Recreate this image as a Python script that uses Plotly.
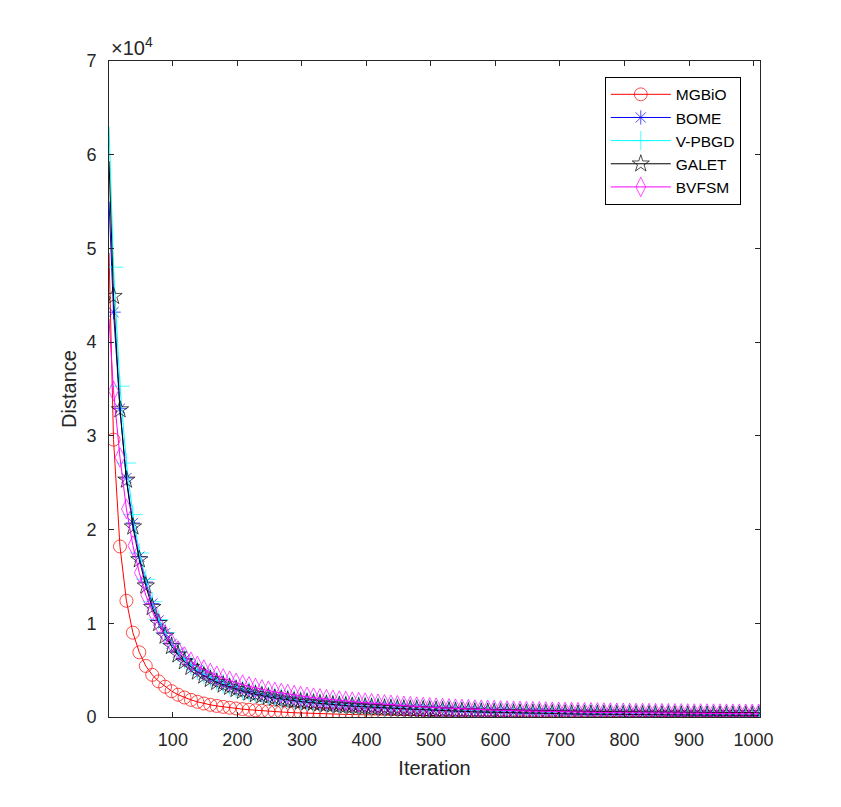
import plotly.graph_objects as go

# iteration at which each value was logged: the start, then every 10th step
iters = [1] + list(range(8, 1009, 10))

mgbio = [49500,
         29600, 18200, 12400, 9000, 6900, 5450, 4500, 3800, 3230, 2760,
         2380, 2080, 1830, 1620, 1440, 1300, 1180, 1080, 990, 910,
         840, 775, 715, 660, 610, 565, 525, 488, 455, 425,
         397, 372, 349, 328, 309, 291, 275, 260, 246, 233,
         221, 210, 200, 190, 181, 173, 165, 158, 151, 145,
         139, 133, 128, 123, 118, 114, 110, 106, 102, 98,
         95, 92, 89, 86, 83, 80, 78, 76, 74, 72,
         70, 68, 66, 64, 62, 60, 59, 58, 57, 56,
         55, 54, 53, 52, 51, 50, 49, 48, 47, 46,
         45, 44, 43, 42, 41, 40, 39, 38, 37, 36, 35]

bome = [55000,
        43200, 32900, 25500, 20700, 17100, 14400, 12100, 10300, 8950, 7800,
        6880, 6120, 5500, 4980, 4540, 4160, 3830, 3540, 3280, 3050,
        2850, 2670, 2500, 2350, 2220, 2100, 1990, 1880, 1790, 1700,
        1620, 1550, 1480, 1420, 1360, 1300, 1250, 1200, 1160, 1120,
        1080, 1040, 1000, 965, 935, 905, 875, 845, 820, 795,
        760, 730, 700, 670, 645, 620, 595, 575, 555, 535,
        515, 497, 480, 465, 450, 436, 422, 409, 397, 385,
        374, 363, 353, 343, 334, 325, 317, 309, 302, 295,
        288, 282, 276, 270, 265, 260, 255, 250, 246, 242,
        238, 234, 231, 228, 225, 222, 219, 216, 214, 212, 210]

vpbgd = [63000,
         48000, 35300, 27100, 21600, 17500, 14700, 12300, 10400, 9000, 7850,
         6920, 6150, 5520, 5000, 4560, 4180, 3850, 3560, 3300, 3070,
         2870, 2690, 2520, 2370, 2240, 2120, 2010, 1900, 1810, 1720,
         1640, 1570, 1500, 1440, 1380, 1320, 1270, 1220, 1180, 1140,
         1100, 1060, 1020, 985, 955, 925, 895, 865, 840, 815,
         780, 750, 720, 690, 665, 640, 615, 595, 575, 555,
         535, 517, 500, 485, 470, 456, 442, 429, 417, 405,
         394, 383, 373, 363, 354, 345, 337, 329, 322, 315,
         308, 302, 296, 290, 285, 280, 275, 270, 266, 262,
         258, 254, 251, 248, 245, 242, 239, 236, 234, 232, 230]

galet = [59300,
         44900, 32800, 25300, 20300, 16800, 14000, 11700, 10000, 8650, 7550,
         6650, 5920, 5320, 4820, 4400, 4030, 3710, 3430, 3180, 2960,
         2760, 2580, 2420, 2280, 2150, 2030, 1920, 1820, 1730, 1650,
         1570, 1500, 1430, 1370, 1310, 1260, 1210, 1160, 1120, 1080,
         1040, 1000, 965, 930, 900, 870, 840, 810, 785, 760,
         720, 690, 660, 630, 605, 580, 555, 535, 515, 495,
         475, 458, 442, 427, 412, 398, 385, 372, 360, 348,
         337, 327, 317, 308, 299, 291, 283, 276, 269, 262,
         256, 250, 244, 239, 234, 229, 224, 220, 216, 212,
         208, 204, 201, 198, 195, 192, 189, 186, 184, 182, 180]

bvfsm = [42500,
         34800, 27700, 22200, 18300, 15400, 13000, 11300, 9900, 8800, 7900,
         7100, 6450, 5900, 5450, 5050, 4700, 4400, 4120, 3870, 3650,
         3450, 3270, 3100, 2950, 2810, 2680, 2560, 2450, 2340, 2240,
         2150, 2060, 1980, 1900, 1830, 1760, 1700, 1640, 1580, 1530,
         1470, 1410, 1350, 1295, 1245, 1195, 1150, 1105, 1065, 1025,
         990, 955, 920, 890, 860, 830, 805, 780, 755, 730,
         710, 690, 670, 652, 635, 618, 602, 587, 572, 558,
         545, 532, 520, 508, 497, 486, 476, 466, 457, 448,
         440, 432, 425, 418, 411, 405, 399, 393, 388, 383,
         378, 374, 370, 366, 362, 358, 355, 352, 349, 346, 343]

series = [
    ('MGBiO', mgbio, 'red', 'circle-open', 13),
    ('BOME', bome, 'blue', 'asterisk-open', 12),
    ('V-PBGD', vpbgd, 'cyan', 'cross-thin-open', 14),
    ('GALET', galet, 'black', 'star-open', 13),
    ('BVFSM', bvfsm, 'magenta', 'diamond-tall-open', 14),
]

fig = go.Figure()
for name, vals, col, sym, sz in series:
    # no marker on the starting point
    sizes = [0] + [sz] * (len(vals) - 1)
    fig.add_trace(go.Scatter(x=iters, y=vals, name=name, mode='lines+markers',
                             line=dict(color=col, width=1),
                             marker=dict(symbol=sym, size=sizes, color=col,
                                         line=dict(color=col, width=1))))

axis_col = '#262626'
# page body has an 8px margin, so the figure is shrunk by that much
fig.update_layout(
    width=833, height=799,
    margin=dict(l=101, r=81, t=53, b=90),
    paper_bgcolor='white', plot_bgcolor='white',
    font=dict(family='Arial, Liberation Sans, sans-serif', size=18, color=axis_col),
    legend=dict(x=0.866, y=0.976, xanchor='center', yanchor='top',
                bgcolor='white', bordercolor='black', borderwidth=1,
                font=dict(size=15.5, color='black'), itemwidth=60,
                tracegroupgap=0),
    annotations=[dict(text='×10<sup>4</sup>', x=0, y=1, xref='paper', yref='paper',
                      xanchor='left', yanchor='bottom', showarrow=False,
                      font=dict(size=20, color=axis_col))],
)
fig.update_xaxes(range=[1, 1010], tickvals=list(range(100, 1001, 100)),
                 ticks='inside', ticklen=5, tickcolor=axis_col, ticklabelstandoff=6,
                 showline=True, linecolor=axis_col, linewidth=1, mirror='ticks',
                 showgrid=False, zeroline=False,
                 title=dict(text='Iteration', font=dict(size=20), standoff=12))
fig.update_yaxes(range=[0, 70000], tickvals=[i * 10000 for i in range(8)],
                 ticktext=[str(i) for i in range(8)],
                 ticks='inside', ticklen=5, tickcolor=axis_col, ticklabelstandoff=8,
                 showline=True, linecolor=axis_col, linewidth=1, mirror='ticks',
                 showgrid=False, zeroline=False,
                 title=dict(text='Distance', font=dict(size=20), standoff=4))

fig.write_html('out.html')
